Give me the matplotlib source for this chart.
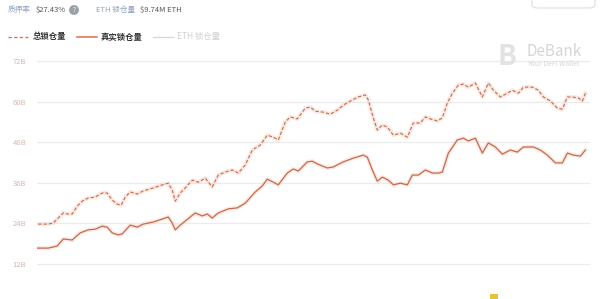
import matplotlib.pyplot as plt
from matplotlib.patches import FancyBboxPatch

plt.rcParams['font.family'] = ['Noto Sans CJK SC', 'DejaVu Sans']

# day index (from start of the period) and TVL in billions USD
total_days = [1, 11, 16, 21, 26, 30, 35, 40, 45, 51, 58, 65, 70, 75, 80, 84, 88, 93, 100, 106, 116,
              125, 131, 135, 138, 143, 148, 155, 161, 168, 175, 181, 188, 195, 201, 208, 215, 223,
              230, 236, 241, 248, 253, 260, 268, 273, 278, 286, 293, 300, 306, 315, 321, 328, 331,
              336, 340, 345, 350, 356, 363, 370, 376, 383, 388, 393, 400, 405, 410, 415, 421, 426,
              431, 438, 445, 451, 456, 463, 470, 475, 481, 486, 495, 501, 506, 513, 520, 525, 530,
              535, 541, 545, 548]
total_tvl = [23.8, 23.8, 24.1, 25.6, 27.1, 26.8, 26.8, 29.1, 30.6, 31.5, 31.8, 33.0, 33.0, 30.9,
             29.7, 29.4, 31.8, 33.3, 32.7, 33.6, 34.5, 35.4, 35.9, 33.9, 30.6, 33.0, 34.5, 36.8,
             36.2, 37.4, 34.8, 38.3, 39.2, 39.8, 38.9, 41.3, 45.7, 47.2, 50.1, 49.5, 48.7, 54.0,
             55.5, 54.9, 58.1, 58.4, 57.2, 56.9, 56.3, 57.5, 59.0, 60.5, 61.4, 62.0, 60.5, 55.2,
             51.6, 53.1, 52.5, 50.1, 50.7, 49.5, 53.7, 53.7, 55.5, 54.9, 54.3, 55.2, 59.6, 62.5,
             64.9, 65.2, 64.3, 65.5, 61.4, 65.5, 63.4, 61.4, 62.5, 63.4, 62.5, 64.3, 64.3, 63.4,
             61.4, 60.2, 58.1, 57.8, 61.4, 61.4, 61.1, 60.2, 62.5]

real_days = [0, 11, 20, 26, 35, 43, 51, 58, 65, 70, 75, 81, 85, 93, 100, 106, 116, 125, 131, 135,
             138, 143, 153, 158, 165, 170, 175, 181, 191, 200, 208, 218, 225, 230, 236, 241, 250,
             256, 261, 270, 275, 280, 290, 296, 306, 316, 326, 330, 335, 340, 345, 351, 356, 363,
             370, 375, 381, 388, 395, 401, 405, 411, 420, 426, 431, 438, 445, 451, 458, 465, 473,
             480, 486, 496, 503, 510, 518, 525, 530, 536, 543, 548]
real_tvl = [16.7, 16.7, 17.3, 19.4, 19.1, 21.2, 22.1, 22.3, 23.2, 22.9, 21.2, 20.6, 20.9, 23.5,
            22.9, 23.8, 24.4, 25.3, 25.9, 24.1, 22.1, 23.5, 25.9, 27.1, 26.2, 26.8, 25.6, 27.1,
            28.3, 28.6, 30.0, 33.3, 35.1, 37.1, 36.2, 35.4, 38.9, 40.1, 39.5, 42.2, 42.4, 41.6,
            40.4, 40.7, 42.2, 43.3, 44.2, 43.6, 39.8, 36.5, 37.7, 36.8, 35.4, 35.9, 35.4, 38.3,
            38.3, 39.8, 38.9, 38.9, 39.2, 44.8, 48.7, 49.2, 48.4, 49.2, 44.8, 47.8, 46.6, 44.5,
            45.7, 45.1, 46.6, 46.6, 45.7, 44.2, 41.9, 41.9, 44.8, 44.2, 43.9, 45.7]

yticks = [12, 24, 36, 48, 60, 72]
ytick_labels = ['12B', '24B', '36B', '48B', '60B', '72B']

line_color = '#c8694b'
glow = '#f7d9cd'

fig = plt.figure(figsize=(6.0, 2.99), dpi=100)
ax = fig.add_axes([0.062, 0.0, 0.922, 0.816])

# soft halo under the lines
ax.plot(total_days, total_tvl, color=glow, lw=3.0, alpha=0.55, zorder=2)
ax.plot(real_days, real_tvl, color=glow, lw=3.0, alpha=0.55, zorder=2)
ax.plot(total_days, total_tvl, color=line_color, lw=0.8, ls=(0, (3, 1.8)), zorder=3)
ax.plot(real_days, real_tvl, color=line_color, lw=0.9, zorder=3)

ax.set_xlim(0, 553)
ax.set_ylim(1.65, 73.8)
ax.set_yticks(yticks)
ax.set_yticklabels(ytick_labels)
ax.set_xticks([])
ax.tick_params(axis='y', length=0, pad=8, labelsize=5.5, labelcolor='#d5b8b0')
ax.grid(axis='y', color='#ebebeb', lw=0.9)
ax.set_axisbelow(True)
for s in ax.spines.values():
    s.set_visible(False)

# header
hy = 1 - 10 / 299
fig.text(8 / 600, hy, '质押率', fontsize=5.5, color='#8fa3bf', va='center')
fig.text(36 / 600, hy, '$27.43%', fontsize=5.5, color='#555555', va='center')
fig.text(74 / 600, hy, '?', fontsize=4.5, color='white', va='center', ha='center',
         bbox=dict(boxstyle='circle,pad=0.15', fc='#9aa0a8', ec='none'))
fig.text(96 / 600, hy, 'ETH 锁仓量', fontsize=5.5, color='#8fa3bf', va='center')
fig.text(140 / 600, hy, '$9.74M ETH', fontsize=5.5, color='#555555', va='center')
box = FancyBboxPatch((532 / 600, 1 - 8 / 299), 63 / 600, 20 / 299,
                     boxstyle='round,pad=0,rounding_size=0.01', transform=fig.transFigure,
                     fc='white', ec='#dddddd', lw=0.8)
fig.patches.append(box)

# legend row
ly = 1 - 37 / 299
fig.add_artist(plt.Line2D([8 / 600, 28 / 600], [ly, ly], color='#e0795a', lw=1.0, ls=(0, (2.5, 1.5))))
fig.text(33 / 600, ly, '总锁仓量', fontsize=6, color='#333333', va='center', fontweight='bold')
fig.add_artist(plt.Line2D([77 / 600, 97 / 600], [ly, ly], color='#e0795a', lw=1.2))
fig.text(101 / 600, ly, '真实锁仓量', fontsize=6, color='#333333', va='center', fontweight='bold')
fig.add_artist(plt.Line2D([153 / 600, 173 / 600], [ly, ly], color='#d8d8d8', lw=1.0))
fig.text(177 / 600, ly, 'ETH 锁仓量', fontsize=6, color='#d0d0d0', va='center')

# watermark
fig.text(497 / 600, 1 - 57 / 299, 'B', fontsize=20, fontweight='bold', color='#e2e2e2',
         va='center', ha='left')
fig.text(527 / 600, 1 - 51 / 299, 'DeBank', fontsize=11, color='#d6d6d6', va='center')
fig.text(527 / 600, 1 - 64 / 299, 'Your DeFi Wallet', fontsize=5, color='#d6d6d6', va='center')

# small icon at bottom right
fig.patches.append(FancyBboxPatch((490 / 600, 0), 8 / 600, 5 / 299, boxstyle='square,pad=0',
                                  transform=fig.transFigure, fc='#e8c13a', ec='none'))

fig.savefig('out.png', dpi=100, facecolor='white')
